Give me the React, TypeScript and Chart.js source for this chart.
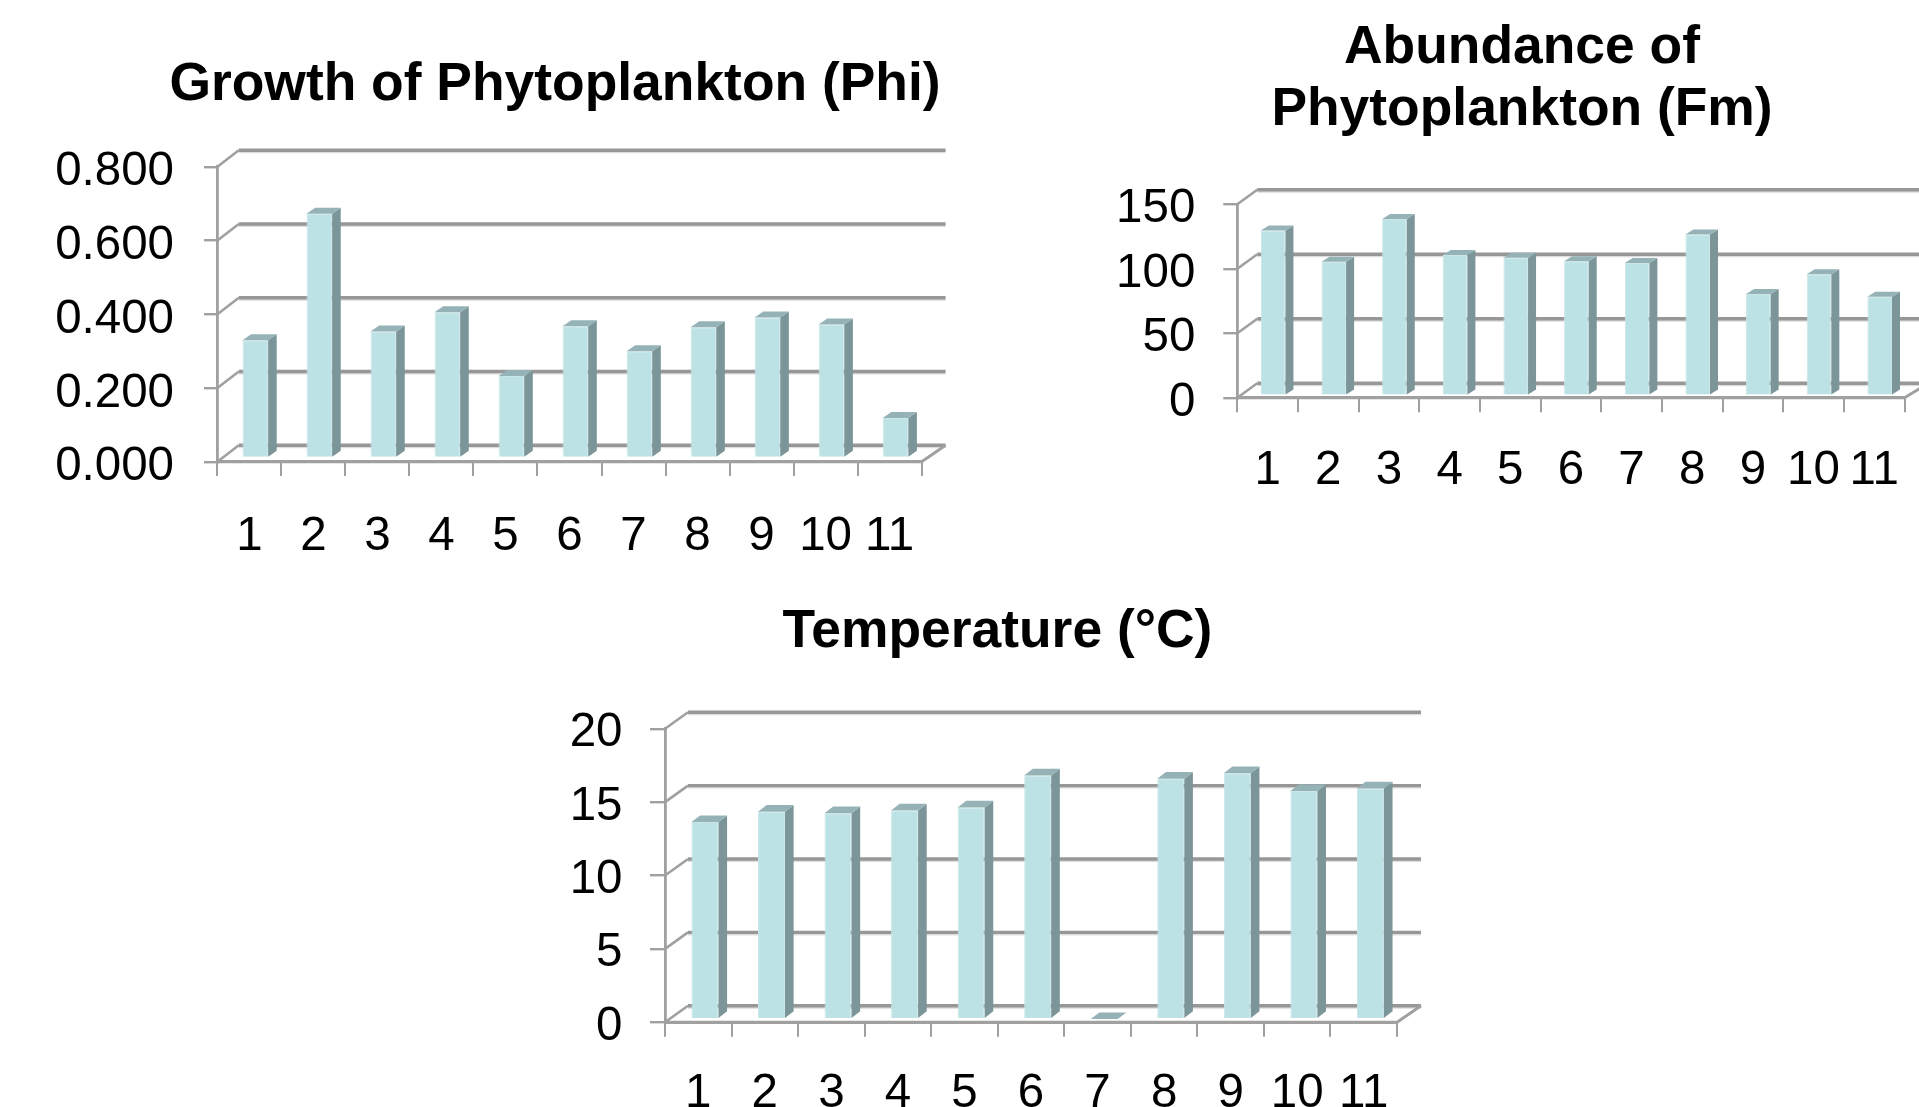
import React, { useEffect, useRef } from "react";
import { Chart, registerables } from "chart.js";

Chart.register(...registerables);

const categories = ["1", "2", "3", "4", "5", "6", "7", "8", "9", "10", "11"];
const phiValues = [0.319, 0.662, 0.343, 0.395, 0.222, 0.357, 0.289, 0.354, 0.381, 0.362, 0.108];
const fmValues = [128.2, 103.9, 137, 109.1, 107, 104.2, 102.9, 125.1, 78.8, 94.1, 76.7];
const tempValues = [13.42, 14.12, 14.03, 14.21, 14.42, 16.6, 0, 16.37, 16.75, 15.53, 15.71];

const FONT = '"Liberation Sans", Arial, sans-serif';
const GRID = "#979797";
const AXIS = "#a0a0a0";

type Panel = {
  title: string | string[];
  values: number[];
  max: number;
  step: number;
  digits: number;
  box: { left: number; top: number; width: number; height: number };
  plot: { l: number; r: number; t: number; b: number };
  titleY: number;
  tickY: number;
  tickX: number;
  padY: number;
  padX: number;
  labelShift: number;
  wall: { dx: number; dy: number; end: number };
  bar: { pct: number; dx: number; dy: number; sideX: number; sideY: number };
};

const panels: Panel[] = [
  {
    title: "Growth of Phytoplankton (Phi)",
    values: phiValues,
    max: 0.8,
    step: 0.2,
    digits: 3,
    box: { left: 0, top: 0, width: 1110, height: 560 },
    plot: { l: 217.4, r: 921.6, t: 166.8, b: 461.8 },
    titleY: 85.5,
    tickY: 13.4,
    tickX: 14.3,
    padY: 30,
    padX: 32,
    labelShift: 5.5,
    wall: { dx: 21.4, dy: -16.5, end: 24 },
    bar: { pct: 0.4, dx: 5.9, dy: -3.9, sideX: 8.6, sideY: -6 },
  },
  {
    title: ["Abundance of", "Phytoplankton (Fm)"],
    values: fmValues,
    max: 150,
    step: 50,
    digits: 0,
    box: { left: 1100, top: 0, width: 844, height: 520 },
    plot: { l: 137.3, r: 804.5, t: 204.3, b: 397.7 },
    titleY: 79.5,
    tickY: 14,
    tickX: 14.6,
    padY: 28,
    padX: 30.5,
    labelShift: 5,
    wall: { dx: 20, dy: -14.5, end: 24 },
    bar: { pct: 0.406, dx: 5.5, dy: -2, sideX: 8, sideY: -5 },
  },
  {
    title: "Temperature (°C)",
    values: tempValues,
    max: 20,
    step: 5,
    digits: 0,
    box: { left: 530, top: 590, width: 935, height: 530 },
    plot: { l: 135, r: 867, t: 138.7, b: 432.3 },
    titleY: 42.5,
    tickY: 15,
    tickX: 14.4,
    padY: 27.5,
    padX: 29,
    labelShift: 4.5,
    wall: { dx: 23, dy: -16.5, end: 24 },
    bar: { pct: 0.406, dx: 6.7, dy: -3.2, sideX: 8.6, sideY: -6.7 },
  },
];

const stroke = (ctx: CanvasRenderingContext2D, pts: number[][], color: string, w: number) => {
  ctx.beginPath();
  pts.forEach(([x, y], i) => (i ? ctx.lineTo(x, y) : ctx.moveTo(x, y)));
  ctx.strokeStyle = color;
  ctx.lineWidth = w;
  ctx.lineJoin = "round";
  ctx.stroke();
};

const fill = (ctx: CanvasRenderingContext2D, pts: number[][], color: string) => {
  ctx.beginPath();
  pts.forEach(([x, y], i) => (i ? ctx.lineTo(x, y) : ctx.moveTo(x, y)));
  ctx.closePath();
  ctx.fillStyle = color;
  ctx.fill();
};

const threeD = (p: Panel) => ({
  id: "threeD",
  beforeDraw(chart: any) {
    // the title is centred on the whole canvas, not on the padded plot
    chart.titleBlock.left = 0;
    chart.titleBlock.right = chart.width;
    // the reference's value labels sit a little under their tick marks
    chart.scales.y.getLabelItems().forEach((item: any) => {
      if (!item.shifted) {
        item.textOffset += p.labelShift;
        item.shifted = true;
      }
    });
  },
  beforeDatasetsDraw(chart: any) {
    const { ctx, scales, chartArea } = chart;
    const { dx, dy, end } = p.wall;
    ctx.save();
    scales.y.ticks.forEach((t: any) => {
      const y = scales.y.getPixelForValue(t.value);
      stroke(ctx, [[chartArea.left, y], [chartArea.left + dx, y + dy]], AXIS, 2.6);
      stroke(ctx, [[chartArea.left + dx, y + dy + 2], [chartArea.right + end, y + dy + 2]], "#dddddd", 2);
      stroke(ctx, [[chartArea.left + dx, y + dy], [chartArea.right + end, y + dy]], GRID, 3.4);
    });
    stroke(ctx, [[chartArea.left, chartArea.bottom], [chartArea.right, chartArea.bottom], [chartArea.right + end, chartArea.bottom + dy]], AXIS, 3);
    ctx.restore();
    ctx.save();
    ctx.translate(p.bar.dx, p.bar.dy);
  },
  afterDatasetsDraw(chart: any) {
    const { ctx } = chart;
    const { sideX, sideY } = p.bar;
    chart.getDatasetMeta(0).data.forEach((bar: any) => {
      const hw = bar.width / 2;
      const l = bar.x - hw;
      const r = bar.x + hw;
      fill(ctx, [[r, bar.y], [r + sideX, bar.y + sideY], [r + sideX, bar.base + sideY], [r, bar.base]], "#7b9599");
      fill(ctx, [[l, bar.y], [l + sideX, bar.y + sideY], [r + sideX, bar.y + sideY], [r, bar.y]], "#95b3b7");
    });
    ctx.restore();
  },
});

function PanelChart({ p }: { p: Panel }) {
  const ref = useRef<HTMLCanvasElement>(null);
  useEffect(() => {
    const lines = Array.isArray(p.title) ? p.title.length : 1;
    const titleH = lines * 62;
    const titleTop = p.titleY - titleH / 2;
    const chart = new Chart(ref.current as HTMLCanvasElement, {
      type: "bar",
      data: {
        labels: categories,
        datasets: [
          {
            data: p.values,
            backgroundColor: "#bce2e5",
            borderColor: "#c9e6e9",
            borderWidth: 1,
            barPercentage: p.bar.pct,
            categoryPercentage: 1,
          },
        ],
      },
      options: {
        animation: false,
        responsive: false,
        devicePixelRatio: 1,
        layout: { padding: { left: 0, top: 0, bottom: 0, right: p.box.width - p.plot.r } },
        plugins: {
          legend: { display: false },
          tooltip: { enabled: false },
          title: {
            display: true,
            text: p.title,
            color: "#000",
            font: { family: FONT, size: 53.4, weight: "bold", lineHeight: 62 / 53.4 },
            padding: { top: titleTop, bottom: p.plot.t - titleTop - titleH },
          },
        },
        scales: {
          x: {
            afterFit: (s: any) => {
              s.height = p.box.height - p.plot.b;
            },
            grid: { drawOnChartArea: false, color: AXIS, lineWidth: 2, tickLength: p.tickX },
            border: { color: AXIS, width: 3 },
            ticks: {
              color: "#000",
              font: { family: FONT, size: 47.5 },
              padding: p.padX,
              maxRotation: 0,
              minRotation: 0,
              autoSkip: false,
            },
          },
          y: {
            min: 0,
            max: p.max,
            afterFit: (s: any) => {
              s.width = p.plot.l;
            },
            grid: { drawOnChartArea: false, color: AXIS, lineWidth: 2.4, tickLength: p.tickY },
            border: { color: AXIS, width: 2.8 },
            ticks: {
              color: "#000",
              font: { family: FONT, size: 47.5 },
              padding: p.padY,
              stepSize: p.step,
              callback: (v: any) => Number(v).toFixed(p.digits),
            },
          },
        },
      },
      plugins: [threeD(p)],
    } as any);
    return () => chart.destroy();
  }, [p]);
  return (
    <canvas
      ref={ref}
      width={p.box.width}
      height={p.box.height}
      style={{ position: "absolute", left: p.box.left, top: p.box.top, width: p.box.width, height: p.box.height, filter: "blur(0.4px)" }}
    />
  );
}

export default function App() {
  return (
    <div style={{ position: "fixed", left: 0, top: 0, width: 1919, height: 1107, overflow: "hidden", background: "#fff" }}>
      {panels.map((p, i) => (
        <PanelChart key={i} p={p} />
      ))}
    </div>
  );
}
